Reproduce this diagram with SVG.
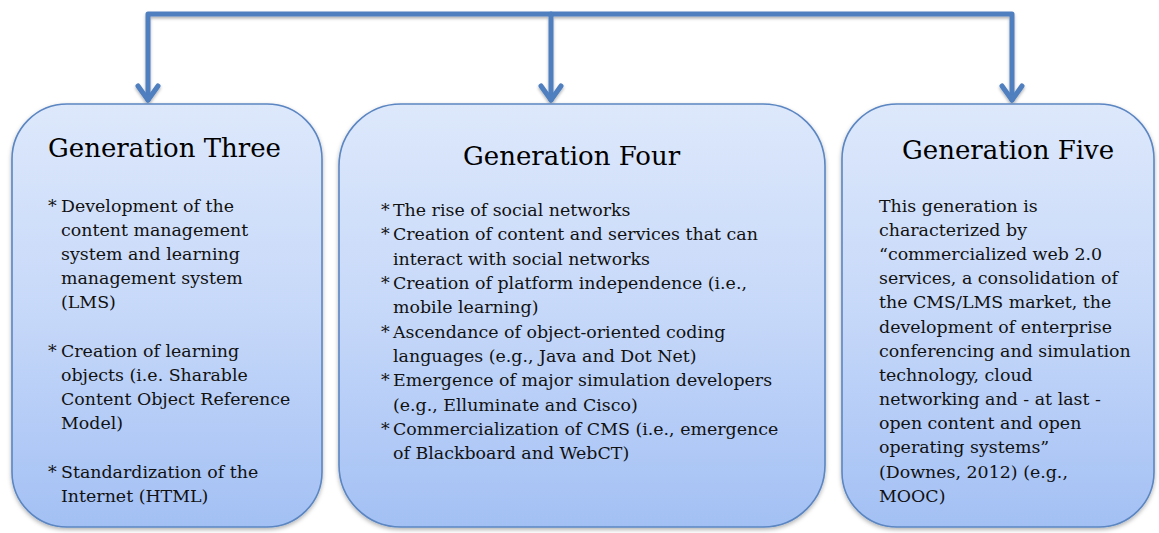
<svg xmlns="http://www.w3.org/2000/svg" width="1159" height="533" viewBox="0 0 1159 533">
  <style>
    .box { stroke: #5b86c2; stroke-width: 1.6; fill: url(#boxFill); filter: url(#soft); }
    .title { font-family: "DejaVu Serif", "Liberation Serif", serif; font-size: 26px; fill: #000; }
    .body { font-family: "DejaVu Serif", "Liberation Serif", serif; font-size: 17.4px; fill: #111; }
    .link { fill: none; stroke: #4f7fbf; stroke-width: 5; stroke-linecap: round; stroke-linejoin: round; }
  </style>
  <defs>
    <linearGradient id="boxFill" x1="0" y1="0" x2="0" y2="1">
      <stop offset="0" stop-color="#dde8fb"/>
      <stop offset="0.5" stop-color="#c6d8f9"/>
      <stop offset="1" stop-color="#a3c0f4"/>
    </linearGradient>
    <filter id="soft" x="-5%" y="-5%" width="110%" height="112%">
      <feDropShadow dx="0" dy="2" stdDeviation="2" flood-color="#000" flood-opacity="0.3"/>
    </filter>
    <filter id="lineShadow" x="-5%" y="-10%" width="110%" height="130%">
      <feDropShadow dx="0" dy="2" stdDeviation="1.5" flood-color="#000" flood-opacity="0.3"/>
    </filter>
  </defs>

  <!-- connectors: a bus across the top feeding three open-headed arrows -->
  <g id="connectors" filter="url(#lineShadow)">
    <path class="link" d="M148,100 V14 H1012 V100"/>
    <path class="link" d="M551,14 V100"/>
    <path class="link" d="M138,86 L148,100 L158,86"/>
    <path class="link" d="M541,86 L551,100 L561,86"/>
    <path class="link" d="M1002,86 L1012,100 L1022,86"/>
  </g>

  <!-- Generation Three -->
  <g id="gen3">
    <rect class="box" x="12" y="104" width="310" height="423" rx="55" ry="55"/>
    <text class="title" x="48" y="157">Generation Three</text>
    <text class="body">
      <tspan x="48" y="212">*</tspan><tspan x="61" y="212">Development of the</tspan>
      <tspan x="61" y="236">content management</tspan>
      <tspan x="61" y="260">system and learning</tspan>
      <tspan x="61" y="284">management system</tspan>
      <tspan x="61" y="308">(LMS)</tspan>
      <tspan x="48" y="357">*</tspan><tspan x="61" y="357">Creation of learning</tspan>
      <tspan x="61" y="381">objects (i.e. Sharable</tspan>
      <tspan x="61" y="405">Content Object Reference</tspan>
      <tspan x="61" y="429">Model)</tspan>
      <tspan x="48" y="478">*</tspan><tspan x="61" y="478">Standardization of the</tspan>
      <tspan x="61" y="502">Internet (HTML)</tspan>
    </text>
  </g>

  <!-- Generation Four -->
  <g id="gen4">
    <rect class="box" x="339" y="104" width="486" height="423" rx="62" ry="62"/>
    <text class="title" x="463" y="165">Generation Four</text>
    <text class="body">
      <tspan x="381" y="216">*</tspan><tspan x="393" y="216">The rise of social networks</tspan>
      <tspan x="381" y="240">*</tspan><tspan x="393" y="240">Creation of content and services that can</tspan>
      <tspan x="393" y="265">interact with social networks</tspan>
      <tspan x="381" y="289">*</tspan><tspan x="393" y="289">Creation of platform independence (i.e.,</tspan>
      <tspan x="393" y="313">mobile learning)</tspan>
      <tspan x="381" y="338">*</tspan><tspan x="393" y="338">Ascendance of object-oriented coding</tspan>
      <tspan x="393" y="362">languages (e.g., Java and Dot Net)</tspan>
      <tspan x="381" y="386">*</tspan><tspan x="393" y="386">Emergence of major simulation developers</tspan>
      <tspan x="393" y="411">(e.g., Elluminate and Cisco)</tspan>
      <tspan x="381" y="435">*</tspan><tspan x="393" y="435">Commercialization of CMS (i.e., emergence</tspan>
      <tspan x="393" y="459">of Blackboard and WebCT)</tspan>
    </text>
  </g>

  <!-- Generation Five -->
  <g id="gen5">
    <rect class="box" x="842" y="104" width="312" height="423" rx="55" ry="55"/>
    <text class="title" x="902" y="159">Generation Five</text>
    <text class="body">
      <tspan x="879" y="212">This generation is</tspan>
      <tspan x="879" y="236">characterized by</tspan>
      <tspan x="879" y="260">“commercialized web 2.0</tspan>
      <tspan x="879" y="284">services, a consolidation of</tspan>
      <tspan x="879" y="308">the CMS/LMS market, the</tspan>
      <tspan x="879" y="333">development of enterprise</tspan>
      <tspan x="879" y="357">conferencing and simulation</tspan>
      <tspan x="879" y="381">technology, cloud</tspan>
      <tspan x="879" y="405">networking and - at last -</tspan>
      <tspan x="879" y="429">open content and open</tspan>
      <tspan x="879" y="453">operating systems”</tspan>
      <tspan x="879" y="478">(Downes, 2012) (e.g.,</tspan>
      <tspan x="879" y="502">MOOC)</tspan>
    </text>
  </g>
</svg>
